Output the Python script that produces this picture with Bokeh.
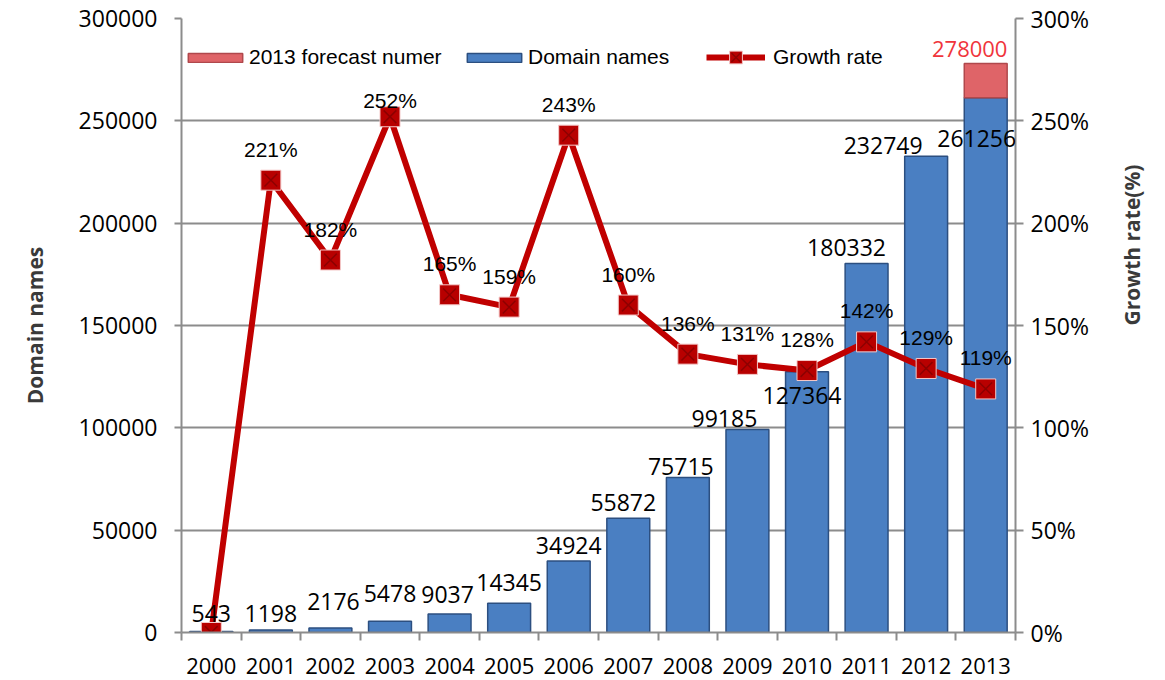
import math
from bokeh.plotting import figure
from bokeh.models import (Range1d, LinearAxis, FixedTicker, ColumnDataSource, Legend,
                          LegendItem, PrintfTickFormatter, NumeralTickFormatter, LabelSet)
from bokeh.core.properties import value
from bokeh.embed import file_html
from bokeh.resources import INLINE

# ---------------- data ----------------
years = ["2000", "2001", "2002", "2003", "2004", "2005", "2006",
         "2007", "2008", "2009", "2010", "2011", "2012", "2013"]
domain_names = [543, 1198, 2176, 5478, 9037, 14345, 34924,
                55872, 75715, 99185, 127364, 180332, 232749, 261256]
growth_rate = [0, 221, 182, 252, 165, 159, 243, 160, 136, 131, 128, 142, 129, 119]
forecast_year = "2013"
forecast_value = 278000
left_ticks = [0, 50000, 100000, 150000, 200000, 250000, 300000]
right_ticks = [0, 50, 100, 150, 200, 250, 300]

# ---------------- style ----------------
GRAY = "#8C8C8C"
BLUE = "#4A7FC2"
BLUE_EDGE = "#2C4F80"
PINK = "#DF6468"
PINK_EDGE = "#B0484C"
RED = "#C00000"
FONT = "Open Sans"
ARIAL = "Liberation Sans"

# label offsets (px) where the default placement would collide
bar_label_dy = {"2000": 18, "2001": 17, "2002": 27, "2003": 28, "2004": 20, "2005": 21,
                "2008": 11, "2009": 11, "2010": -24, "2012": 11, "2013": -41}
bar_label_dx = {"2002": 3, "2004": -2, "2007": -5, "2008": -7, "2009": -23,
                "2010": -5, "2011": -20, "2012": -43, "2013": -9}
growth_label_dy = {"2003": 16}

xs = list(range(len(years)))
fi = years.index(forecast_year)

p = figure(width=1165, height=680,
           x_range=Range1d(-0.5, len(years) - 0.5),
           y_range=Range1d(left_ticks[0], left_ticks[-1]),
           output_backend="svg", toolbar_location=None,
           min_border_left=181, min_border_right=150,
           min_border_top=18, min_border_bottom=48)
p.extra_y_ranges = {"pct": Range1d(right_ticks[0], right_ticks[-1])}
p.outline_line_color = None
p.background_fill_color = "white"
p.border_fill_color = "white"

# grid
p.xgrid.visible = False
p.ygrid.ticker = FixedTicker(ticks=left_ticks)
p.ygrid.grid_line_color = GRAY
p.ygrid.grid_line_width = 2

# x axis
xa = p.xaxis[0]
xa.ticker = FixedTicker(ticks=xs, minor_ticks=[i - 0.5 for i in range(len(years) + 1)])
xa.major_label_overrides = {i: y for i, y in zip(xs, years)}
xa.major_tick_out = 0
xa.major_tick_in = 0
xa.minor_tick_out = 8
xa.minor_tick_in = 0
xa.minor_tick_line_color = GRAY
xa.minor_tick_line_width = 2
xa.axis_line_color = GRAY
xa.axis_line_width = 2
xa.major_label_standoff = 17
xa.major_label_text_font = FONT
xa.major_label_text_font_size = "22px"
xa.major_label_text_color = "black"

# left axis
ya = p.yaxis[0]
ya.ticker = FixedTicker(ticks=left_ticks)
ya.formatter = NumeralTickFormatter(format="0")
ya.major_tick_out = 7
ya.major_tick_in = 0
ya.minor_tick_out = 0
ya.minor_tick_in = 0
ya.major_tick_line_color = GRAY
ya.major_tick_line_width = 2
ya.axis_line_color = GRAY
ya.axis_line_width = 2
ya.major_label_standoff = 17
ya.major_label_text_font = FONT
ya.major_label_text_font_size = "23px"
ya.major_label_text_color = "black"
ya.axis_label = "Domain names"
ya.axis_label_text_font = FONT
ya.axis_label_text_font_style = "bold"
ya.axis_label_text_font_size = "21px"
ya.axis_label_text_color = "#3A3A3A"
ya.axis_label_standoff = 27

# right axis
ra = LinearAxis(y_range_name="pct", ticker=FixedTicker(ticks=right_ticks),
                formatter=PrintfTickFormatter(format="%d%%"))
ra.major_tick_out = 8
ra.major_tick_in = 0
ra.minor_tick_out = 0
ra.minor_tick_in = 0
ra.major_tick_line_color = GRAY
ra.major_tick_line_width = 2
ra.axis_line_color = GRAY
ra.axis_line_width = 2
ra.major_label_standoff = 7
ra.major_label_text_font = FONT
ra.major_label_text_font_size = "23px"
ra.major_label_text_color = "black"
ra.axis_label = "Growth rate(%)"
ra.axis_label_text_font = FONT
ra.axis_label_text_font_style = "bold"
ra.axis_label_text_font_size = "21px"
ra.axis_label_text_color = "#3A3A3A"
ra.axis_label_standoff = 40
ra.axis_label_orientation = math.pi / 2
p.add_layout(ra, "right")

# bars
bar_src = ColumnDataSource(dict(
    x=xs, top=domain_names, label=[str(v) for v in domain_names],
    dy=[bar_label_dy.get(y, 16) for y in years],
    dx=[bar_label_dx.get(y, 0) for y in years]))
bars = p.vbar(x="x", top="top", bottom=0, width=0.72, source=bar_src,
              fill_color=BLUE, line_color=BLUE_EDGE, line_width=1.5)

fc_src = ColumnDataSource(dict(x=[fi], bottom=[domain_names[fi]], top=[forecast_value],
                               label=[str(forecast_value)]))
fc = p.vbar(x="x", top="top", bottom="bottom", width=0.72, source=fc_src,
            fill_color=PINK, line_color=PINK_EDGE, line_width=1.5)

# growth line
g_src = ColumnDataSource(dict(x=xs, y=growth_rate))
gline = p.line(x="x", y="y", source=g_src, y_range_name="pct",
               line_color=RED, line_width=6)
gsq = p.scatter(x="x", y="y", source=g_src, y_range_name="pct", marker="square",
                size=20, fill_color="#B80000", line_color="#F4C8C8", line_width=1)
gx = p.scatter(x="x", y="y", source=g_src, y_range_name="pct", marker="x",
               size=18, line_color="#6A0000", line_alpha=0.55, line_width=1.5)

# value labels
p.add_layout(LabelSet(x="x", y="top", text="label", source=bar_src,
                      x_offset="dx", y_offset="dy",
                      text_align="center", text_baseline="middle",
                      text_font=value(FONT), text_font_size="23px", text_color="black"))
p.add_layout(LabelSet(x="x", y="top", text="label", source=fc_src,
                      x_offset=-16, y_offset=15,
                      text_align="center", text_baseline="middle",
                      text_font=value(FONT), text_font_size="22px", text_color="#F0353C"))

gl_src = ColumnDataSource(dict(
    x=xs[1:], y=growth_rate[1:], label=[f"{v}%" for v in growth_rate[1:]],
    dy=[growth_label_dy.get(y, 31) for y in years[1:]]))
p.add_layout(LabelSet(x="x", y="y", text="label", source=gl_src, y_range_name="pct",
                      y_offset="dy", text_align="center", text_baseline="middle",
                      text_font=value(ARIAL), text_font_size="21px", text_color="black"))

# legends (three separate entries placed as in the original)
def make_legend(items, loc, gw, gh, standoff):
    lg = Legend(items=items, location=loc, orientation="horizontal",
                glyph_width=gw, glyph_height=gh, label_standoff=standoff,
                padding=0, margin=0, spacing=0,
                border_line_color=None, background_fill_alpha=0,
                label_text_font=ARIAL, label_text_font_size="21px",
                label_text_color="black")
    p.add_layout(lg, "center")

make_legend([LegendItem(label="2013 forecast numer", renderers=[fc])], (0, 563), 68, 11, -3)
make_legend([LegendItem(label="Domain names", renderers=[bars])], (279, 563), 68, 11, -3)
make_legend([LegendItem(label="Growth rate", renderers=[gline, gsq, gx])], (525, 559), 59, 32, 8)

open("out.html", "w").write(file_html(p, INLINE))
